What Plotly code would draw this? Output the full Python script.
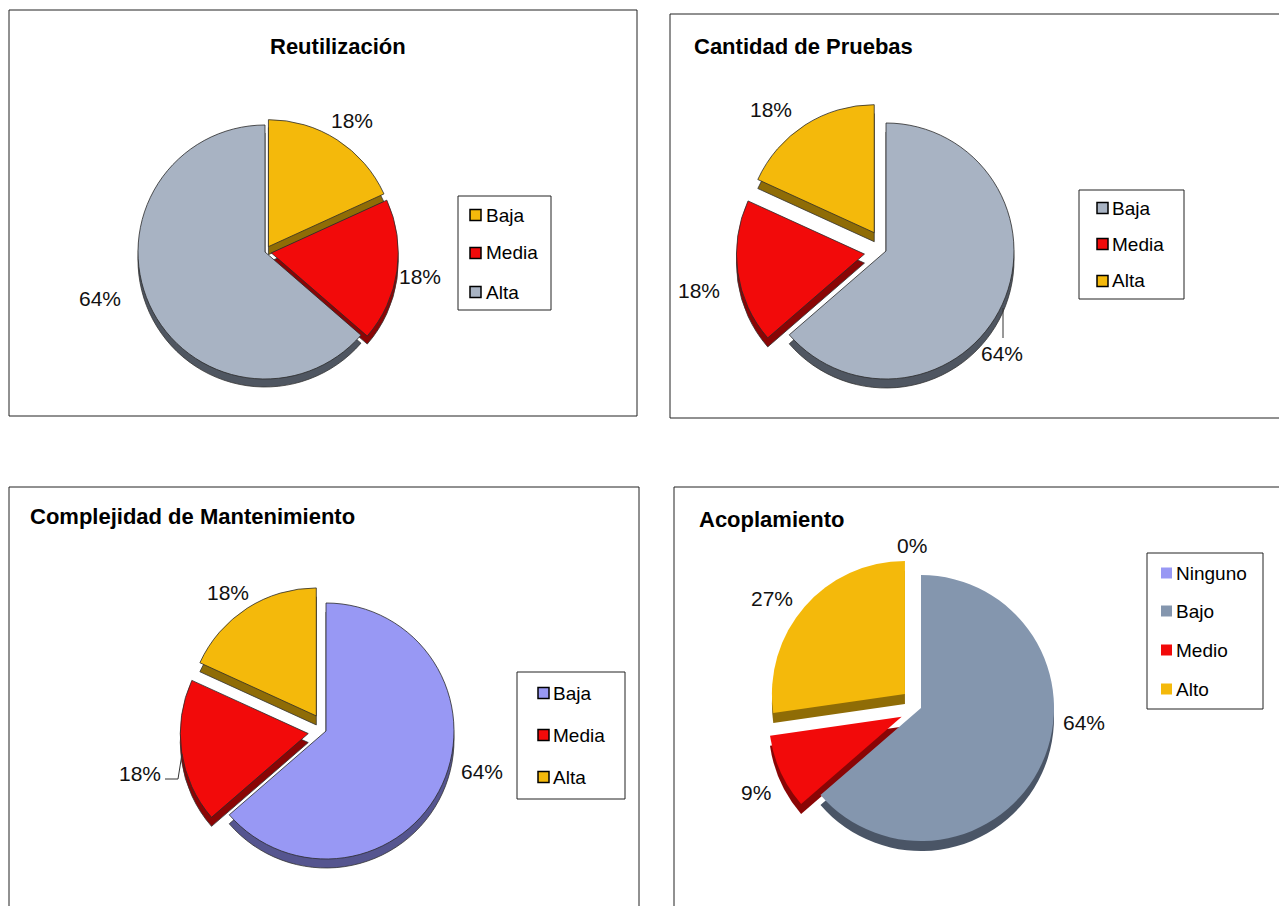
import plotly.graph_objects as go

W, H = 1279, 906

# ---------------- data ----------------
reu_labels = ["Baja", "Media", "Alta"]
reu_values = [2, 2, 7]
pru_labels = ["Baja", "Media", "Alta"]
pru_values = [7, 2, 2]
man_labels = ["Baja", "Media", "Alta"]
man_values = [7, 2, 2]
aco_labels = ["Ninguno", "Bajo", "Medio", "Alto"]
aco_values = [0, 7, 1, 3]

titles = ["Reutilización", "Cantidad de Pruebas", "Complejidad de Mantenimiento", "Acoplamiento"]

YEL, RED, GRY, LAV, SLT = "#F4B90B", "#F20A0A", "#A8B3C3", "#9898F4", "#8496AE"
YEL_D, RED_D, GRY_D, LAV_D, SLT_D = "#8F6C06", "#8A0505", "#4F5661", "#55558F", "#4A5566"

FONT = "Liberation Sans, Arial, sans-serif"

charts = [
    dict(labels=reu_labels, values=reu_values, colors=[YEL, RED, GRY], dark=[YEL_D, RED_D, GRY_D],
         pull=[0.05, 0.05, 0.0], c=(265, 252), R=127, depth=8, line=True,
         lab=[(352, 120), (420, 276), (100, 298)]),
    dict(labels=pru_labels, values=pru_values, colors=[GRY, RED, YEL], dark=[GRY_D, RED_D, YEL_D],
         pull=[0.0, 0.17, 0.17], c=(886, 251), R=128, depth=9, line=True,
         lab=[(1002, 353), (699, 290), (771, 109)]),
    dict(labels=man_labels, values=man_values, colors=[LAV, RED, YEL], dark=[LAV_D, RED_D, YEL_D],
         pull=[0.0, 0.14, 0.14], c=(326, 731), R=128, depth=9, line=True,
         lab=[(482, 771), (140, 773), (228, 592)]),
    dict(labels=aco_labels, values=aco_values, colors=[LAV, SLT, RED, YEL], dark=[LAV_D, SLT_D, RED_D, YEL_D],
         pull=[0.0, 0.0, 0.16, 0.16], c=(921, 708), R=133, depth=10, line=False,
         lab=[(912, 545), (1084, 722), (756, 792), (772, 598)]),
]

fig = go.Figure()
annotations = []
shapes = []


def dom(cx, cy, half):
    return dict(x=[(cx - half) / W, (cx + half) / W], y=[1 - (cy + half) / H, 1 - (cy - half) / H])


for ch in charts:
    cx, cy = ch["c"]
    half = ch["R"] * (1 + max(ch["pull"]))
    lw = 0.8 if ch["line"] else 0
    # extruded side (3D look)
    fig.add_trace(go.Pie(labels=ch["labels"], values=ch["values"], sort=False, direction="clockwise",
                         rotation=0, pull=ch["pull"], textinfo="none", hoverinfo="skip",
                         marker=dict(colors=ch["dark"], line=dict(color="#333333", width=lw)),
                         domain=dom(cx, cy + ch["depth"], half), showlegend=False))
    # top face
    fig.add_trace(go.Pie(labels=ch["labels"], values=ch["values"], sort=False, direction="clockwise",
                         rotation=0, pull=ch["pull"], textinfo="none",
                         marker=dict(colors=ch["colors"], line=dict(color="#2a2a2a" if ch["line"] else "rgba(0,0,0,0)", width=lw)),
                         domain=dom(cx, cy, half), showlegend=False))
    tot = sum(ch["values"])
    for v, (lx, ly) in zip(ch["values"], ch["lab"]):
        annotations.append(dict(x=lx / W, y=1 - ly / H, xref="paper", yref="paper",
                                xanchor="center", yanchor="middle",
                                text=f"{round(100 * v / tot)}%", showarrow=False,
                                font=dict(family=FONT, size=21, color="#111111")))

# chart frames
frames = [(9, 10, 637, 416), (670, 14, 1290, 418), (9, 487, 639, 920), (674, 487, 1290, 920)]
for x0, y0, x1, y1 in frames:
    shapes.append(dict(type="rect", xref="paper", yref="paper", x0=x0 / W, x1=x1 / W,
                       y0=1 - y1 / H, y1=1 - y0 / H, line=dict(color="#222222", width=1), layer="below"))

# titles
title_pos = [(338, 46, "center"), (692, 46, "left"), (28, 516, "left"), (697, 519, "left")]
for t, (tx, ty, al) in zip(titles, title_pos):
    annotations.append(dict(x=tx / W, y=1 - ty / H, xref="paper", yref="paper", text=f"<b>{t}</b>",
                            showarrow=False, xanchor=al, yanchor="middle",
                            font=dict(family=FONT, size=22, color="#000000")))

# leader lines
leaders = [[(1003, 308), (1003, 338)], [(182, 754), (178, 779), (165, 779)]]
for pts in leaders:
    path = "M " + " L ".join(f"{px / W},{1 - py / H}" for px, py in pts)
    shapes.append(dict(type="path", xref="paper", yref="paper", path=path,
                       line=dict(color="#333333", width=1)))

# legends
legends = [
    dict(box=(458, 196, 551, 310), sq_x=470, txt_x=484, ys=[215, 253, 292], border=True),
    dict(box=(1079, 190, 1184, 299), sq_x=1097, txt_x=1110, ys=[208, 244, 281], border=True),
    dict(box=(517, 672, 625, 799), sq_x=538, txt_x=551, ys=[693, 735, 777], border=True),
    dict(box=(1147, 553, 1263, 709), sq_x=1161, txt_x=1174, ys=[573, 611, 650, 689], border=False),
]
for lg, ch in zip(legends, charts):
    x0, y0, x1, y1 = lg["box"]
    shapes.append(dict(type="rect", xref="paper", yref="paper", x0=x0 / W, x1=x1 / W,
                       y0=1 - y1 / H, y1=1 - y0 / H, line=dict(color="#222222", width=1)))
    for lab, col, yy in zip(ch["labels"], ch["colors"], lg["ys"]):
        s = 5.5
        shapes.append(dict(type="rect", xref="paper", yref="paper",
                           x0=lg["sq_x"] / W, x1=(lg["sq_x"] + 2 * s) / W,
                           y0=1 - (yy + s) / H, y1=1 - (yy - s) / H, fillcolor=col,
                           line=dict(color="#000000" if lg["border"] else col, width=1.5 if lg["border"] else 0)))
        annotations.append(dict(x=lg["txt_x"] / W, y=1 - yy / H, xref="paper", yref="paper", text=lab,
                                showarrow=False, xanchor="left", yanchor="middle",
                                font=dict(family=FONT, size=19, color="#000000")))

fig.update_layout(width=W, height=H, margin=dict(l=0, r=0, t=0, b=0),
                  paper_bgcolor="white", plot_bgcolor="white",
                  annotations=annotations, shapes=shapes, showlegend=False)

fig.write_html("out.html")
